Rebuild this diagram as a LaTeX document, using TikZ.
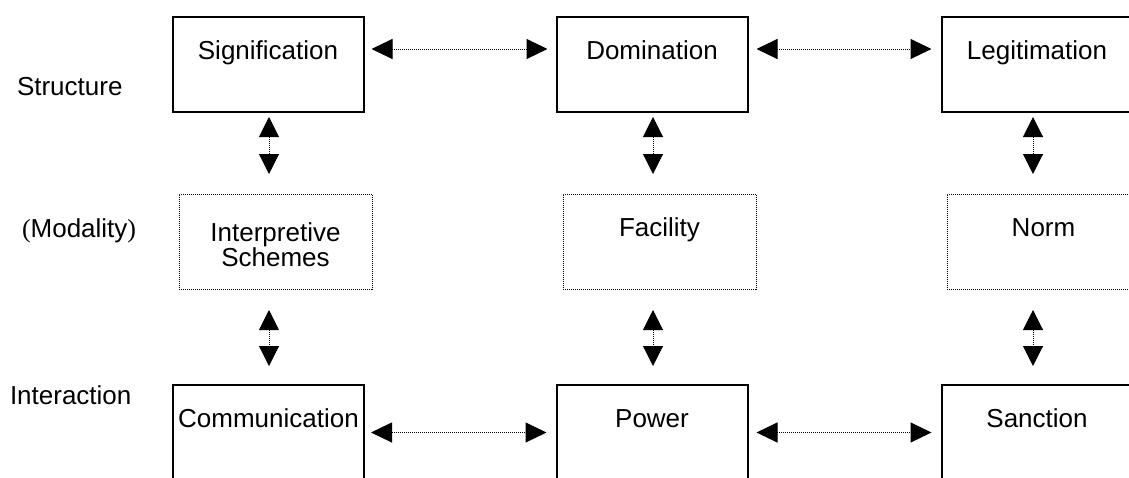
\documentclass[tikz,border=0pt]{standalone}
\usepackage{fontspec}
\setmainfont{Liberation Sans}
\newfontfamily\parenfont{Liberation Serif}
\usetikzlibrary{arrows.meta}
\begin{document}
\begin{tikzpicture}[x=1pt,y=-1pt,
  every node/.style={font=\fontsize{26}{24}\selectfont, inner sep=0pt, outer sep=0pt},
  solidbox/.style={draw, line width=2pt, minimum width=191pt, minimum height=95pt, text height=19pt, text depth=30pt},
  dotbox/.style={draw, line width=0.9pt, dash pattern=on 1pt off 1pt, minimum width=193pt, minimum height=95pt},
  onelinetext/.style={text height=19pt, text depth=30pt},
  biarrow/.style={line width=1pt, dash pattern=on 1pt off 1pt, {Triangle[length=21pt,width=20pt]}-{Triangle[length=21pt,width=20pt]}},
  varrow/.style={line width=1pt, dash pattern=on 1pt off 1pt, {Triangle[length=20pt,width=20pt]}-{Triangle[length=20pt,width=20pt]}},
  rowlabel/.style={anchor=base west}
]
\useasboundingbox (0,0) rectangle (1129,477);
\clip (0,0) rectangle (1129,477);

% structure row
\node[solidbox] (sig) at (268,64.5) {Signification};
\node[solidbox] (dom) at (652,64.5) {Domination};
\node[solidbox] (leg) at (1037,64.5) {Legitimation};
% modality row
\node[dotbox, align=center] (isch) at (275.5,241.5) {\rule{0pt}{24.7pt}Interpretive\\Schemes};
\node[dotbox, onelinetext] (fac) at (659.5,241.5) {Facility};
\node[dotbox, onelinetext] (norm) at (1043.5,241.5) {Norm};
% interaction row
\node[solidbox] (com) at (268.5,432.5) {Communication};
\node[solidbox] (pow) at (652,432.5) {Power};
\node[solidbox] (san) at (1037,432.5) {Sanction};

% row labels
\node[rowlabel] (lstr) at (17,95) {Structure};
\node[rowlabel] (lmod) at (22,237) {{\parenfont(}Modality{\parenfont)}};
\node[rowlabel] (lint) at (10,404) {Interaction};

% horizontal connectors
\draw[biarrow, shorten <=8pt, shorten >=9pt] ([yshift=15.5pt]sig.east) -- ([yshift=15.5pt]dom.west);
\draw[biarrow, shorten <=9pt, shorten >=10pt] ([yshift=15.5pt]dom.east) -- ([yshift=15.5pt]leg.west);
\draw[biarrow, shorten <=7pt, shorten >=10pt] (com.east) -- (pow.west);
\draw[biarrow, shorten <=9pt, shorten >=10pt] (pow.east) -- (san.west);

% vertical connectors
\draw[varrow, shorten <=5pt, shorten >=20pt] ([xshift=1pt]sig.south) -- ([xshift=1pt]sig.south |- isch.north);
\draw[varrow, shorten <=5pt, shorten >=20pt] ([xshift=1pt]dom.south) -- ([xshift=1pt]dom.south |- fac.north);
\draw[varrow, shorten <=5pt, shorten >=20pt] ([xshift=-4pt]leg.south) -- ([xshift=-4pt]leg.south |- norm.north);
\draw[varrow, shorten <=21pt, shorten >=19pt] ([xshift=-6.5pt]isch.south) -- ([xshift=-6.5pt]isch.south |- com.north);
\draw[varrow, shorten <=21pt, shorten >=19pt] ([xshift=-6.5pt]fac.south) -- ([xshift=-6.5pt]fac.south |- pow.north);
\draw[varrow, shorten <=21pt, shorten >=19pt] ([xshift=-10.5pt]norm.south) -- ([xshift=-10.5pt]norm.south |- san.north);
\end{tikzpicture}
\end{document}
